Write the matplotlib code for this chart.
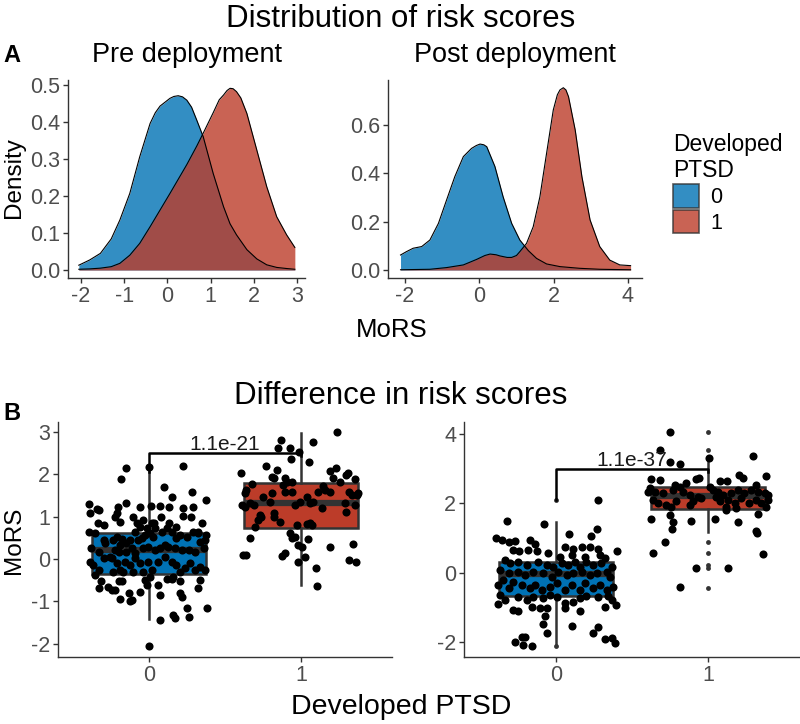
import numpy as np
import matplotlib
matplotlib.use('Agg')
import matplotlib.pyplot as plt
from matplotlib.patches import Patch

plt.rcParams['font.family'] = ['Liberation Sans', 'DejaVu Sans']
plt.rcParams['axes.unicode_minus'] = False

# ---- data ----
groups = ['0', '1']
colors = ['#0072B5', '#BC3C29']

# density curves, pre deployment
pre_x0 = [-2.05, -1.8, -1.55, -1.3, -1.1, -0.87, -0.64, -0.4, -0.28, -0.17, 0.06, 0.15, 0.25,
          0.35, 0.45, 0.56, 0.68, 0.83, 1.06, 1.3, 1.45, 1.6, 1.84, 2.07, 2.3, 2.53, 2.76, 2.95]
pre_d0 = [0.013, 0.027, 0.045, 0.084, 0.135, 0.207, 0.306, 0.396, 0.425, 0.443, 0.464, 0.469, 0.471,
          0.468, 0.459, 0.44, 0.405, 0.36, 0.261, 0.171, 0.125, 0.095, 0.055, 0.03, 0.014, 0.007, 0.004, 0.002]
pre_x1 = [-2.05, -1.8, -1.55, -1.3, -1.1, -0.87, -0.64, -0.4, -0.17, 0.06, 0.25, 0.45, 0.68, 0.83,
          1.06, 1.2, 1.3, 1.38, 1.45, 1.52, 1.6, 1.7, 1.84, 2.07, 2.3, 2.53, 2.76, 2.95]
pre_d1 = [0.002, 0.003, 0.005, 0.009, 0.018, 0.04, 0.072, 0.117, 0.162, 0.207, 0.245, 0.285, 0.335, 0.37,
          0.425, 0.46, 0.473, 0.485, 0.491, 0.49, 0.482, 0.465, 0.423, 0.324, 0.225, 0.144, 0.095, 0.061]

# density curves, post deployment
post_x0 = [-2.12, -1.96, -1.78, -1.55, -1.33, -1.1, -0.88, -0.66, -0.43, -0.21, -0.08, 0.02, 0.12,
           0.2, 0.42, 0.64, 0.87, 1.09, 1.32, 1.54, 1.81, 2.17, 2.7, 3.24, 4.07]
post_d0 = [0.062, 0.076, 0.090, 0.097, 0.124, 0.193, 0.29, 0.386, 0.469, 0.503, 0.515, 0.521, 0.518,
           0.51, 0.428, 0.303, 0.193, 0.124, 0.08, 0.048, 0.025, 0.014, 0.007, 0.003, 0.001]
post_x1 = [-2.12, -1.33, -0.88, -0.43, -0.07, 0.15, 0.29, 0.45, 0.56, 0.75, 0.87, 1.0, 1.09, 1.27,
           1.45, 1.63, 1.81, 1.99, 2.1, 2.17, 2.26, 2.33, 2.4, 2.58, 2.76, 2.98, 3.24, 3.51, 3.78, 4.07]
post_d1 = [0.001, 0.003, 0.01, 0.021, 0.044, 0.06, 0.066, 0.063, 0.058, 0.052, 0.052, 0.06, 0.076, 0.11,
           0.179, 0.303, 0.483, 0.662, 0.725, 0.745, 0.754, 0.745, 0.717, 0.579, 0.386, 0.207, 0.097,
           0.041, 0.021, 0.018]

# box statistics (group 0, group 1)
pre_q1 = [-0.35, 0.74]
pre_med = [0.22, 1.33]
pre_q3 = [0.62, 1.80]
pre_lo = [-1.42, -0.62]
pre_hi = [2.05, 2.97]
pre_out = [[2.15, -2.05], []]

post_q1 = [-0.68, 1.82]
post_med = [-0.03, 2.22]
post_q3 = [0.32, 2.48]
post_lo = [-2.08, 1.18]
post_hi = [1.47, 3.30]
post_out = [[2.09, -2.1], [4.06, 3.54, 0.88, 0.56, 0.22, 0.14, -0.43]]

# significance brackets: height, left tip end, right tip end, label
br_y = [2.5, 3.0]
br_left = [2.05, 2.09]
br_right = [2.42, 2.9]
br_text = ['1.1e-21', '1.1e-37']

# jittered points: (offset from group centre, MoRS)
pre_pts0 = np.array([
    (0.0, 2.18), (-0.151, 2.14), (0.224, 2.19), (-0.184, 1.88), (0.096, 1.69), (0.149, 1.47),
    (0.281, 1.57), (0.373, 1.39), (-0.151, 1.31), (-0.393, 1.29), (-0.388, 1.08), (-0.344, 1.18),
    (-0.329, 1.15), (-0.202, 1.23), (-0.059, 1.23), (0.01, 1.25), (0.072, 1.25), (0.129, 1.23),
    (0.221, 1.21), (0.287, 1.23), (-0.213, 1.08), (-0.224, 1.0), (-0.103, 1.0), (-0.037, 0.92),
    (0.018, 0.84), (0.033, 0.86), (0.077, 1.0), (0.134, 0.84), (0.226, 1.02), (0.279, 1.0),
    (0.346, 0.86), (-0.399, 0.64), (-0.338, 0.86), (-0.294, 0.80), (-0.191, 0.88), (-0.081, 0.84),
    (-0.059, 0.76), (-0.015, 0.72), (0.039, 0.72), (0.116, 0.72), (0.175, 0.76), (0.325, 0.64),
    (0.373, 0.57),
    (-0.355, 0.62), (-0.30, 0.45), (-0.29, 0.37), (-0.235, 0.45), (-0.21, 0.53), (-0.18, 0.47),
    (-0.19, 0.33), (-0.225, 0.21), (-0.15, 0.37), (-0.125, 0.45), (-0.09, 0.64), (-0.07, 0.45),
    (-0.048, 0.49), (-0.026, 0.57), (0.007, 0.61), (0.029, 0.53), (0.083, 0.64), (0.15, 0.64),
    (0.18, 0.49), (0.204, 0.57), (0.248, 0.53), (0.29, 0.64), (0.325, 0.61), (0.336, 0.41),
    (0.37, 0.45), (-0.38, 0.25), (-0.33, 0.17), (-0.26, 0.05), (-0.20, 0.17), (-0.15, 0.17),
    (-0.114, 0.25), (-0.09, 0.13), (-0.037, 0.25), (-0.004, 0.29), (0.04, 0.21), (0.072, 0.25),
    (0.105, 0.33), (0.127, 0.29), (0.17, 0.25), (0.215, 0.21), (0.26, 0.21), (0.30, 0.17),
    (0.36, 0.25), (-0.39, -0.06), (-0.37, -0.14), (-0.33, -0.26), (-0.30, 0.02), (-0.245, 0.02),
    (-0.21, -0.10), (-0.19, -0.26), (-0.16, -0.06), (-0.125, -0.14), (-0.09, 0.02), (-0.06, -0.10),
    (-0.037, -0.30), (-0.004, -0.06), (0.018, -0.26), (0.06, -0.06), (0.105, 0.05), (0.15, -0.06),
    (0.18, -0.14), (0.204, -0.30), (0.237, -0.22), (0.27, -0.10), (0.30, -0.26), (0.336, -0.18),
    (0.37, -0.26), (-0.355, -0.38), (-0.235, -0.30), (-0.17, -0.30), (-0.103, -0.30), (0.16, -0.42),
    (0.116, -0.46),
    (-0.32, -0.53), (-0.33, -0.69), (-0.27, -0.65), (-0.245, -0.73), (-0.20, -0.53), (-0.18, -0.53),
    (-0.225, -0.73), (-0.19, -0.94), (-0.135, -0.81), (-0.125, -1.0), (-0.114, -0.97), (-0.06, -0.77),
    (-0.026, -0.50), (0.007, -0.42), (-0.015, -0.61), (0.06, -0.61), (0.072, -0.85), (0.15, -0.46),
    (0.204, -0.81), (0.215, -0.89), (0.204, -0.53), (0.325, -0.69), (0.336, -0.50), (0.248, -1.16),
    (0.26, -1.36), (0.16, -1.32), (0.17, -1.40), (0.072, -1.44), (0.38, -1.16), (0.0, -2.05)])

pre_pts1 = np.array([
    (0.235, 3.0), (-0.134, 2.81), (0.081, 2.75), (-0.153, 2.61), (-0.072, 2.61), (-0.01, 2.52),
    (-0.066, 2.35), (0.053, 2.29), (-0.397, 2.02), (-0.23, 2.19), (-0.16, 2.10), (0.19, 2.08),
    (0.23, 2.15), (0.30, 1.98), (0.31, 2.02), (0.355, 1.89), (-0.19, 1.94), (-0.18, 1.90),
    (-0.105, 1.90), (-0.094, 1.82), (-0.06, 1.82), (-0.116, 1.75), (-0.32, 1.76), (-0.36, 1.63),
    (-0.37, 1.55), (-0.25, 1.47), (-0.19, 1.55), (-0.105, 1.59), (-0.06, 1.59), (0.147, 1.71),
    (0.158, 1.63), (0.114, 1.59), (0.19, 1.59), (0.21, 1.90), (0.257, 1.82), (0.32, 1.59),
    (0.334, 1.51), (0.37, 1.51), (0.377, 1.55), (-0.39, 1.27), (-0.37, 1.23), (-0.336, 1.31),
    (-0.31, 1.27), (-0.204, 1.35), (-0.04, 1.27), (-0.007, 1.35), (0.037, 1.47), (0.06, 1.31),
    (0.081, 1.35), (0.136, 1.20), (0.29, 1.31), (0.30, 1.12), (0.355, 1.27), (-0.27, 1.04),
    (-0.26, 1.00), (-0.18, 1.08), (-0.18, 1.00), (-0.28, 0.92), (-0.30, 0.76), (-0.138, 0.87),
    (-0.028, 0.80), (0.037, 0.83), (0.06, 0.84), (0.07, 0.80), (-0.072, 0.61), (-0.04, 0.53),
    (-0.06, 0.50), (-0.336, 0.50), (0.048, 0.47), (-0.018, 0.33), (0.004, 0.29), (0.19, 0.28),
    (0.344, 0.35), (-0.38, 0.09), (-0.36, 0.09), (-0.127, 0.08), (-0.105, 0.13), (-0.018, -0.06),
    (0.026, 0.05), (0.32, -0.02), (0.36, -0.06), (0.099, -0.22), (0.107, -0.63)])

post_pts0 = np.array([
    (0.274, 2.09), (-0.324, 1.49), (-0.08, 1.39), (0.086, 1.10), (0.23, 1.06), (0.268, 1.25),
    (-0.397, 1.01), (-0.353, 0.94), (-0.309, 0.89), (-0.27, 0.91), (-0.171, 0.94), (-0.138, 0.82),
    (0.059, 0.75), (0.114, 0.67), (0.169, 0.73), (0.224, 0.73), (0.278, 0.67), (0.40, 0.61),
    (-0.281, 0.65), (-0.24, 0.61), (-0.182, 0.65), (-0.127, 0.61), (-0.05, 0.58), (0.026, 0.46),
    (0.103, 0.51), (0.19, 0.46), (0.29, 0.51), (0.32, 0.41), (-0.336, 0.37), (-0.30, 0.27),
    (-0.248, 0.32), (-0.19, 0.22), (-0.116, 0.32), (-0.061, 0.22), (-0.018, 0.17), (0.037, 0.27),
    (0.08, 0.22), (0.125, 0.32), (0.158, 0.17), (0.20, 0.32), (0.245, 0.22), (0.30, 0.27),
    (0.366, 0.17), (-0.368, 0.08), (-0.31, -0.02), (-0.25, 0.03), (-0.204, -0.07), (-0.149, 0.03),
    (-0.083, -0.02), (-0.029, -0.12), (0.015, 0.03), (0.07, -0.07), (0.114, -0.02), (0.169, 0.03),
    (0.224, -0.07), (0.268, -0.02), (0.334, 0.03), (0.355, -0.12), (-0.38, -0.35), (-0.35, -0.21),
    (-0.28, -0.26), (-0.31, -0.45), (-0.226, -0.35), (-0.171, -0.45), (-0.138, -0.35), (-0.094, -0.50),
    (-0.04, -0.40), (0.004, -0.31), (0.059, -0.50), (0.103, -0.35), (0.158, -0.50), (0.19, -0.31),
    (0.246, -0.45), (0.29, -0.35), (0.334, -0.50), (0.377, -0.40), (-0.368, -0.64), (-0.336, -0.79),
    (-0.248, -0.69), (-0.193, -0.79), (-0.149, -0.69), (-0.083, -0.74), (-0.04, -0.64), (0.004, -0.69),
    (0.059, -0.86), (0.114, -0.84), (0.158, -0.74), (0.20, -0.67), (0.278, -0.69), (0.344, -0.67),
    (0.366, -0.79), (-0.38, -0.91), (-0.281, -1.07), (-0.248, -1.10), (-0.16, -0.98), (-0.105, -1.01),
    (-0.061, -1.01), (0.059, -1.01), (0.158, -1.10), (0.32, -0.98), (0.393, -0.93), (-0.072, -1.25),
    (-0.083, -1.48), (-0.061, -1.73), (0.103, -1.54), (0.246, -1.75), (0.274, -1.57), (-0.27, -2.01),
    (-0.226, -1.84), (-0.204, -1.84), (-0.215, -2.08), (-0.16, -2.10), (0.32, -1.92), (0.366, -1.89),
    (0.388, -2.03)])

post_pts1 = np.array([
    (-0.25, 4.06), (-0.313, 3.54), (-0.252, 3.20), (-0.186, 3.12), (0.30, 3.35), (0.01, 3.30),
    (-0.055, 2.72), (-0.081, 2.69), (-0.142, 2.58), (-0.372, 2.70), (-0.313, 2.67), (-0.219, 2.53),
    (-0.186, 2.48), (0.077, 2.65), (0.125, 2.64), (0.202, 2.82), (0.23, 2.72), (0.318, 2.53),
    (0.384, 2.77), (-0.384, 2.43), (-0.395, 2.33), (-0.35, 2.33), (-0.296, 2.29), (-0.23, 2.38),
    (-0.164, 2.33), (-0.12, 2.24), (-0.066, 2.19), (0.011, 2.48), (0.033, 2.38), (0.066, 2.33),
    (0.099, 2.24), (0.154, 2.29), (0.197, 2.38), (0.241, 2.29), (0.285, 2.38), (0.329, 2.33),
    (0.373, 2.29), (0.395, 2.24), (-0.362, 2.10), (-0.329, 2.00), (-0.274, 1.95), (-0.241, 1.90),
    (-0.208, 2.05), (-0.12, 1.95), (-0.10, 2.05), (-0.044, 2.14), (0.055, 2.19), (0.077, 2.05),
    (0.12, 1.90), (0.13, 2.10), (0.176, 2.00), (0.22, 2.14), (0.274, 2.00), (0.318, 2.10),
    (0.351, 2.00), (0.384, 1.90), (0.395, 2.10), (0.12, 1.81), (0.187, 1.86), (-0.372, 1.54),
    (-0.252, 1.66), (-0.23, 1.47), (-0.235, 1.26), (-0.11, 1.49), (0.044, 1.54), (0.197, 1.47),
    (0.329, 1.68), (0.318, 1.20), (0.325, 1.15), (-0.285, 0.88), (-0.362, 0.56), (-0.076, 0.13),
    (0.132, 0.14), (-0.186, -0.42), (0.362, 0.53)])

# ---- figure ----
W, H = 800, 724
fig = plt.figure(figsize=(W / 100, H / 100), dpi=100)


def px_axes(left, top, right, bottom):
    return fig.add_axes([left / W, 1 - bottom / H, (right - left) / W, (bottom - top) / H])


def ftext(x, y, s, **kw):
    fig.text(x / W, 1 - y / H, s, **kw)


def style(ax):
    for s in ['top', 'right']:
        ax.spines[s].set_visible(False)
    for s in ['left', 'bottom']:
        ax.spines[s].set_color('#333333')
        ax.spines[s].set_linewidth(1.0)
    ax.tick_params(colors='#333333', labelcolor='#4D4D4D', labelsize=15.5,
                   length=3.5, width=1, pad=2)
    ax.patch.set_alpha(0)


def density(ax, curves, xlim, ylim, xticks, yticks):
    for (x, d), c in zip(curves, colors):
        ax.fill_between(x, 0, d, color=c, alpha=0.8, lw=0)
        ax.plot(x, d, color='black', lw=0.8)
    ax.set_xlim(*xlim)
    ax.set_ylim(*ylim)
    ax.set_xticks(xticks)
    ax.set_yticks(yticks)
    ax.set_yticklabels([f'{v:.1f}' for v in yticks])
    style(ax)


ax1 = px_axes(68, 80, 305, 278)
density(ax1, [(pre_x0, pre_d0), (pre_x1, pre_d1)], (-2.30, 3.185), (-0.0216, 0.5135),
        range(-2, 4), [0, 0.1, 0.2, 0.3, 0.4, 0.5])

ax2 = px_axes(388, 80, 642, 278)
density(ax2, [(post_x0, post_d0), (post_x1, post_d1)], (-2.457, 4.377), (-0.0331, 0.786),
        [-2, 0, 2, 4], [0, 0.2, 0.4, 0.6])


def boxes(ax, q1, med, q3, lo, hi, out, pts, k, xlim, ylim, yticks):
    stats = [dict(q1=q1[i], med=med[i], q3=q3[i], whislo=lo[i], whishi=hi[i], fliers=out[i])
             for i in range(2)]
    bp = ax.bxp(stats, positions=[0, 1], widths=0.75, patch_artist=True, showcaps=False,
                boxprops=dict(edgecolor='#333333', linewidth=1.8),
                medianprops=dict(color='#333333', linewidth=4.5),
                whiskerprops=dict(color='#333333', linewidth=1.8),
                flierprops=dict(marker='o', markersize=3.5, markerfacecolor='#333333',
                                markeredgewidth=0))
    for patch, c in zip(bp['boxes'], colors):
        patch.set_facecolor(c)
    for i, p in enumerate(pts):
        ax.scatter(i + p[:, 0], p[:, 1], s=34, color='black', lw=0, zorder=3)
    ax.plot([0, 0, 1, 1], [br_left[k], br_y[k], br_y[k], br_right[k]], color='black',
            lw=1.8, zorder=4)
    ax.text(0.5, br_y[k] + 0.07 * (ylim[1] - ylim[0]) / 5.5, br_text[k], ha='center',
            va='baseline', fontsize=15, color='#1a1a1a', zorder=5)
    ax.set_xlim(*xlim)
    ax.set_ylim(*ylim)
    ax.set_xticks([0, 1])
    ax.set_xticklabels(groups)
    ax.set_yticks(yticks)
    style(ax)


ax3 = px_axes(58, 422, 392, 657)
boxes(ax3, pre_q1, pre_med, pre_q3, pre_lo, pre_hi, pre_out, [pre_pts0, pre_pts1], 0,
      (-0.6, 1.6), (-2.31, 3.23), [-2, -1, 0, 1, 2, 3])

ax4 = px_axes(464, 422, 799, 657)
boxes(ax4, post_q1, post_med, post_q3, post_lo, post_hi, post_out, [post_pts0, post_pts1], 1,
      (-0.605, 1.6), (-2.43, 4.34), [-2, 0, 2, 4])

# ---- texts ----
ftext(401, 19, 'Distribution of risk scores', ha='center', va='center', fontsize=22.5)
ftext(401, 396, 'Difference in risk scores', ha='center', va='center', fontsize=22.5)
ftext(3, 55, 'A', ha='left', va='center', fontsize=17, fontweight='bold')
ftext(3, 414, 'B', ha='left', va='center', fontsize=17, fontweight='bold')
ftext(187, 55, 'Pre deployment', ha='center', va='center', fontsize=19.5)
ftext(515, 55, 'Post deployment', ha='center', va='center', fontsize=19.5)
ftext(14, 178, 'Density', ha='center', va='center', rotation=90, fontsize=17.5)
ftext(14, 540, 'MoRS', ha='center', va='center', rotation=90, fontsize=17.5)
ftext(392, 330, 'MoRS', ha='center', va='center', fontsize=18.5)
ftext(401, 707, 'Developed PTSD', ha='center', va='center', fontsize=20.5)

handles = [Patch(facecolor=c, alpha=0.8, edgecolor='#333333', linewidth=1.2) for c in colors]
fig.legend(handles, groups, title='Developed\nPTSD', loc='upper left',
           bbox_to_anchor=(662 / W, 1 - 122 / H), frameon=False, fontsize=15.5,
           title_fontsize=16.5, alignment='left', borderpad=0, labelspacing=0.08,
           handlelength=1.2, handleheight=1.3, handletextpad=0.55)

fig.savefig('out.png', dpi=100)
